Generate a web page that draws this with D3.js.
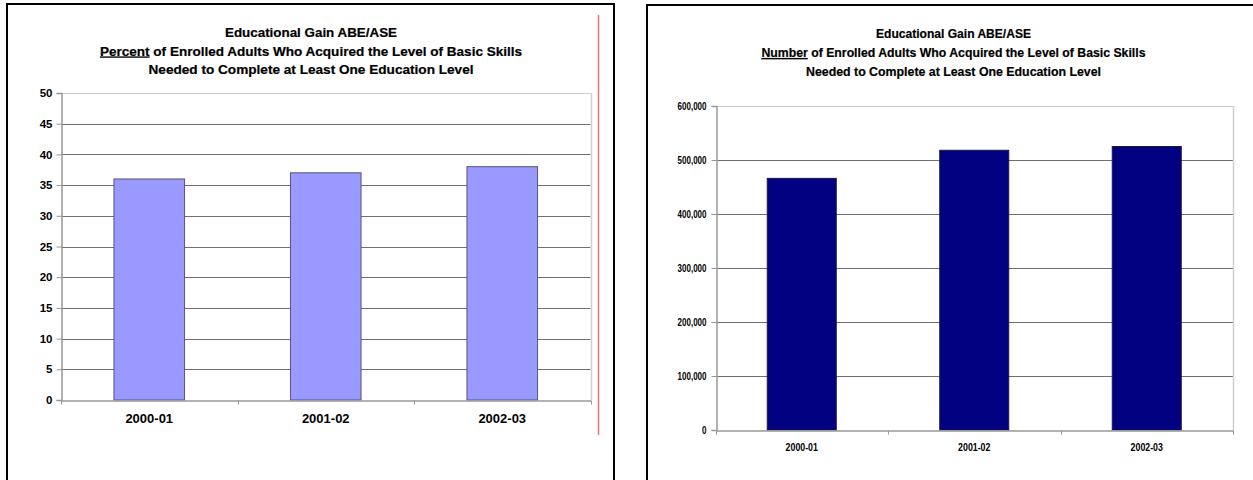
<!DOCTYPE html>
<html>
<head>
<meta charset="utf-8">
<script src="https://cdn.jsdelivr.net/npm/d3@7/dist/d3.min.js"></script>
<style>
  html, body { margin: 0; padding: 0; background: #fff; }
  svg { display: block; }
</style>
</head>
<body>
<svg id="chart" width="1253" height="480"></svg>
<script>
// School years shown on both charts
const years = ["2000-01", "2001-02", "2002-03"];

// Percent of enrolled adults completing at least one level
const percentValues = [36, 37, 38];
const percentTicks = [0, 5, 10, 15, 20, 25, 30, 35, 40, 45, 50];

// Number of enrolled adults completing at least one level
const numberValues = [466000, 518000, 525000];
const numberTicks = [0, 100000, 200000, 300000, 400000, 500000, 600000];

// Title lines (the first word of line two is underlined)
const titleLine1 = "Educational Gain ABE/ASE";
const percentLead = "Percent";
const numberLead = "Number";
const titleLine2Rest = " of Enrolled Adults Who Acquired the Level of Basic Skills";
const titleLine3 = "Needed to Complete at Least One Education Level";

const svg = d3.select("#chart");
const FONT = "'Liberation Sans', Arial, sans-serif";

// squeeze a label horizontally (condensed look)
function condense(sel, factor) {
  if (factor === 1) return;
  sel.each(function () {
    const w = this.getComputedTextLength();
    d3.select(this).attr("textLength", w * factor).attr("lengthAdjust", "spacingAndGlyphs");
  });
}

function drawPanel(cfg) {
  const g = svg.append("g");

  // panel frame
  g.append("rect")
    .attr("x", cfg.frame.x).attr("y", cfg.frame.y)
    .attr("width", cfg.frame.w).attr("height", cfg.frame.h)
    .attr("fill", "#fff").attr("stroke", "#000").attr("stroke-width", 2);

  // title
  const t = cfg.title;
  const lines = [
    { parts: [{ s: titleLine1 }], len: t.len[0], y: t.y[0] },
    { parts: [{ s: cfg.lead, u: true }, { s: titleLine2Rest }], len: t.len[1], y: t.y[1] },
    { parts: [{ s: titleLine3 }], len: t.len[2], y: t.y[2] }
  ];
  lines.forEach(l => {
    const txt = g.append("text")
      .attr("x", t.cx).attr("y", l.y)
      .attr("text-anchor", "middle")
      .attr("font-family", FONT).attr("font-weight", "bold")
      .attr("font-size", t.size).attr("fill", "#000")
      .attr("stroke", "#000").attr("stroke-width", 0.2)
      .attr("textLength", l.len).attr("lengthAdjust", "spacingAndGlyphs");
    l.parts.forEach(p => {
      const ts = txt.append("tspan").text(p.s);
      if (p.u) ts.style("text-decoration", "underline");
    });
  });

  const p = cfg.plot;
  const x = d3.scaleBand().domain(years).range([p.x0, p.x1]).paddingInner(0.6).paddingOuter(0.3);
  const band = d3.scaleBand().domain(years).range([p.x0, p.x1]);
  const y = d3.scaleLinear().domain(cfg.domain).range([p.y0, p.y1]);

  // gridlines
  g.append("g").selectAll("line")
    .data(cfg.ticks.filter(v => v > 0))
    .join("line")
    .attr("x1", p.x0).attr("x2", p.x1)
    .attr("y1", v => Math.round(y(v)) + 0.5).attr("y2", v => Math.round(y(v)) + 0.5)
    .attr("stroke", v => v === cfg.domain[1] ? "#cfcfcf" : cfg.gridColor)
    .attr("stroke-width", 1);

  // right edge of plot area
  g.append("line")
    .attr("x1", Math.round(p.x1) + 0.5).attr("x2", Math.round(p.x1) + 0.5)
    .attr("y1", y(cfg.domain[1])).attr("y2", y(0))
    .attr("stroke", "#cfcfcf").attr("stroke-width", 1.5);

  // bars
  g.append("g").selectAll("rect")
    .data(cfg.values)
    .join("rect")
    .attr("x", (d, i) => x(years[i]))
    .attr("width", x.bandwidth())
    .attr("y", d => y(d))
    .attr("height", d => y(0) - y(d))
    .attr("fill", cfg.barColor)
    .attr("stroke", cfg.barStroke).attr("stroke-width", 1);

  // y axis
  const yAxis = d3.axisLeft(y).tickValues(cfg.ticks).tickSize(5).tickPadding(cfg.yPad)
    .tickFormat(cfg.yFormat);
  const ya = g.append("g").attr("transform", `translate(${Math.round(p.x0) + 0.5},0)`).call(yAxis);
  ya.select(".domain").attr("stroke", "#999").attr("stroke-width", 1.5);
  ya.selectAll(".tick line").attr("stroke", "#999");
  const yt = ya.selectAll(".tick text")
    .attr("font-family", FONT).attr("font-size", cfg.ySize)
    .attr("font-weight", cfg.yWeight).attr("fill", "#000");
  condense(yt, cfg.squeeze);

  // x axis
  const xAxis = d3.axisBottom(band).tickSize(0).tickPadding(cfg.xPad);
  const xa = g.append("g").attr("transform", `translate(0,${Math.round(y(0)) + 0.5})`).call(xAxis);
  xa.select(".domain").attr("stroke", "#999").attr("stroke-width", 1.5);
  const xt = xa.selectAll(".tick text")
    .attr("font-family", FONT).attr("font-size", cfg.xSize)
    .attr("font-weight", cfg.xWeight).attr("fill", "#000");
  condense(xt, cfg.squeeze);
  // category separators below the axis
  const seps = years.map(c => band(c)).concat([band(years[years.length - 1]) + band.bandwidth()]);
  xa.append("g").selectAll("line").data(seps).join("line")
    .attr("x1", d => Math.round(d) + 0.5).attr("x2", d => Math.round(d) + 0.5)
    .attr("y1", 0).attr("y2", 4)
    .attr("stroke", "#999").attr("stroke-width", 1);
  return g;
}

// Percent chart (left)
drawPanel({
  frame: { x: 7, y: 4, w: 607, h: 490 },
  lead: percentLead,
  title: { cx: 311, y: [36.5, 55.5, 74], len: [172, 422, 325], size: 12 },
  plot: { x0: 61, x1: 590.5, y0: 400, y1: 93 },
  domain: [0, 50],
  ticks: percentTicks,
  values: percentValues,
  barColor: "#9999ff",
  barStroke: "#555577",
  gridColor: "#707070",
  yFormat: d3.format("d"),
  ySize: 11.5, yWeight: "bold", yPad: 4,
  xSize: 13, xWeight: "bold", xPad: 13,
  squeeze: 1
});

// thin red rule beside the percent chart
svg.append("line")
  .attr("x1", 598.5).attr("x2", 598.5).attr("y1", 15).attr("y2", 435)
  .attr("stroke", "#ff6b6b").attr("stroke-width", 1.5);

// Number chart (right)
drawPanel({
  frame: { x: 647, y: 5, w: 640, h: 490 },
  lead: numberLead,
  title: { cx: 953.5, y: [38, 57, 75.5], len: [155, 384, 295], size: 12 },
  plot: { x0: 715.5, x1: 1233, y0: 430, y1: 106 },
  domain: [0, 600000],
  ticks: numberTicks,
  values: numberValues,
  barColor: "#000080",
  barStroke: "#1a1a40",
  gridColor: "#6e6e6e",
  yFormat: d3.format(","),
  ySize: 10, yWeight: "bold", yPad: 5,
  xSize: 11, xWeight: "bold", xPad: 13,
  squeeze: 0.8
});
</script>
</body>
</html>
